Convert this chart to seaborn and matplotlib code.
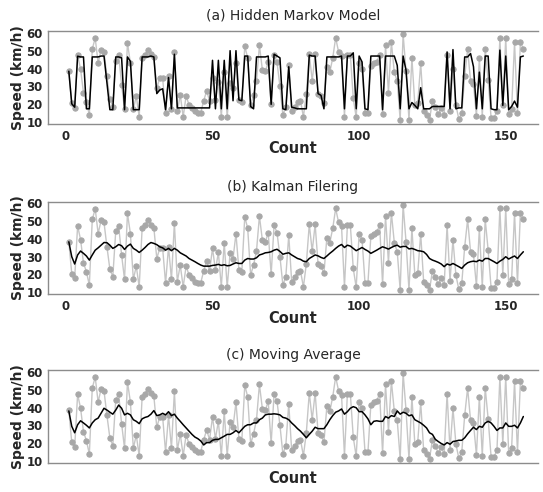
import matplotlib
matplotlib.use("Agg")
import matplotlib.pyplot as plt
import numpy as np
import pandas as pd
import seaborn as sns

# Observed speed series (km/h), one value per count
speed = [
    38.4, 20.5, 18.0, 47.4, 39.7, 26.5, 21.5, 14.0, 51.0, 57.0,
    43.0, 50.5, 49.3, 35.6, 23.0, 18.7, 44.4, 47.4, 31.0, 17.2,
    54.4, 43.0, 17.2, 24.7, 13.0, 46.0, 47.8, 50.6, 48.0, 46.3,
    29.0, 34.7, 34.7, 15.0, 35.6, 17.2, 49.0, 16.0, 25.3, 13.0,
    24.7, 19.7, 17.8, 16.0, 15.4, 15.4, 22.0, 27.5, 22.0, 34.7,
    22.5, 32.4, 13.0, 37.9, 13.0, 31.9, 29.0, 43.0, 22.5, 21.5,
    52.5, 46.0, 19.7, 25.3, 33.2, 52.9, 39.4, 38.4, 43.5, 20.0,
    47.8, 43.5, 30.0, 14.0, 18.7, 42.2, 16.0, 18.3, 21.5, 22.0,
    13.0, 26.0, 48.2, 33.2, 48.2, 26.0, 24.7, 20.6, 40.7, 37.9,
    46.0, 57.2, 49.3, 47.2, 13.0, 47.8, 47.8, 23.4, 12.7, 43.0,
    39.7, 15.4, 15.0, 41.6, 43.0, 43.7, 47.8, 14.4, 52.9, 26.6,
    54.7, 37.9, 32.8, 11.2, 59.3, 38.4, 11.2, 46.0, 19.7, 21.0,
    43.0, 16.0, 14.0, 11.2, 22.1, 18.7, 14.4, 17.8, 14.0, 47.8,
    16.3, 39.7, 19.7, 11.6, 15.0, 35.6, 51.0, 32.8, 31.3, 13.5,
    46.0, 13.0, 51.0, 33.7, 12.5, 12.5, 16.0, 57.2, 19.7, 57.2,
    14.6, 17.2, 54.7, 15.0, 54.7, 51.0,
]

# Hidden Markov Model estimate
hmm = [
    38.5, 20.3, 18.4, 46.9, 46.5, 46.5, 17.5, 17.5, 46.5, 46.5,
    46.5, 47.0, 47.0, 32.0, 17.0, 17.0, 46.5, 46.5, 46.0, 17.0,
    46.5, 44.0, 17.0, 17.0, 17.0, 46.5, 46.5, 46.5, 47.0, 46.5,
    26.0, 28.0, 28.7, 17.0, 35.0, 17.5, 48.0, 18.0, 18.0, 18.0,
    18.0, 18.0, 18.0, 18.0, 18.0, 18.0, 18.0, 18.0, 18.0, 44.6,
    17.5, 44.6, 17.5, 44.6, 17.5, 50.0, 22.0, 50.0, 22.5, 22.0,
    47.0, 47.0, 18.8, 17.5, 46.5, 46.5, 46.5, 46.5, 47.0, 20.0,
    48.0, 47.0, 46.0, 17.5, 17.0, 41.0, 18.4, 18.0, 17.5, 17.5,
    17.5, 17.5, 47.5, 47.0, 47.0, 26.0, 25.0, 17.5, 46.5, 46.5,
    46.5, 46.5, 46.5, 47.0, 17.5, 47.0, 47.0, 48.8, 17.5, 47.0,
    43.7, 17.5, 17.0, 47.0, 47.0, 47.0, 47.0, 17.0, 47.0, 47.0,
    47.0, 47.0, 41.8, 17.5, 47.0, 39.0, 17.5, 21.0, 19.4, 17.5,
    29.3, 17.5, 17.5, 17.5, 18.8, 18.8, 18.8, 18.8, 18.8, 49.3,
    17.5, 50.6, 17.5, 18.0, 18.0, 46.5, 46.5, 48.4, 41.0, 17.5,
    38.0, 17.5, 47.0, 47.0, 17.5, 17.0, 17.0, 50.3, 19.4, 47.0,
    17.0, 18.8, 21.8, 18.4, 46.5, 47.0,
]

# Kalman filter estimate
kalman = [
    38.4, 30.0, 25.9, 31.0, 33.2, 31.9, 30.4, 28.1, 31.0, 33.7,
    35.0, 36.5, 38.0, 37.9, 36.5, 34.7, 35.6, 36.9, 36.2, 34.1,
    36.0, 37.1, 34.7, 33.7, 32.4, 33.7, 35.2, 36.9, 38.0, 37.5,
    36.8, 35.6, 35.0, 33.7, 34.7, 33.4, 34.7, 33.7, 32.2, 31.3,
    30.4, 29.0, 28.1, 27.2, 26.2, 25.3, 24.7, 24.7, 24.7, 25.1,
    25.3, 25.7, 25.1, 25.5, 24.9, 25.1, 25.9, 26.6, 26.2, 26.2,
    28.1, 29.0, 28.7, 28.7, 29.4, 31.0, 31.5, 32.2, 32.4, 32.8,
    33.7, 34.2, 33.0, 31.4, 31.9, 32.2, 31.0, 30.0, 29.0, 28.5,
    27.5, 27.2, 29.0, 30.0, 31.0, 30.5, 29.6, 29.0, 30.4, 31.9,
    33.2, 34.7, 36.0, 36.9, 35.2, 36.5, 36.0, 34.7, 33.4, 34.3,
    35.2, 34.1, 33.2, 31.9, 32.8, 33.7, 34.7, 35.6, 35.0, 34.3,
    35.2, 36.0, 36.5, 35.4, 35.8, 35.8, 34.4, 34.7, 34.1, 33.4,
    33.2, 32.8, 31.3, 29.0, 28.1, 27.5, 26.8, 25.9, 24.4, 25.9,
    25.3, 26.2, 25.3, 24.4, 23.4, 25.3, 26.6, 27.2, 27.5, 27.2,
    28.1, 27.5, 29.0, 29.0, 28.1, 27.2, 26.2, 27.5, 28.5, 30.0,
    28.7, 29.6, 30.4, 29.0, 31.0, 32.8,
]

# Moving average estimate
moving_avg = [
    38.1, 29.5, 25.9, 30.4, 32.6, 31.4, 30.1, 28.6, 31.4, 33.2,
    34.1, 36.8, 39.6, 38.6, 37.4, 36.3, 38.6, 41.4, 39.6, 35.9,
    36.8, 35.9, 33.2, 32.3, 31.0, 33.7, 34.5, 35.0, 36.3, 38.3,
    35.5, 35.9, 36.8, 35.9, 37.7, 35.5, 36.3, 34.1, 32.3, 30.4,
    28.6, 26.8, 25.0, 23.5, 22.6, 21.3, 19.1, 20.4, 20.4, 21.7,
    22.2, 22.2, 23.1, 24.0, 25.0, 25.0, 25.9, 27.2, 25.9, 27.7,
    29.5, 30.4, 30.4, 31.4, 31.4, 33.2, 34.1, 35.9, 36.3, 36.3,
    36.5, 36.3, 35.9, 34.5, 34.1, 33.2, 31.4, 29.9, 28.2, 26.8,
    25.0, 23.1, 25.0, 26.8, 29.0, 28.2, 28.2, 28.2, 30.4, 33.2,
    35.5, 37.4, 38.1, 39.2, 36.3, 37.7, 39.6, 40.5, 39.9, 37.7,
    37.7, 35.9, 33.7, 30.4, 32.3, 32.6, 32.3, 32.3, 35.0, 34.1,
    35.5, 35.0, 38.1, 36.3, 37.4, 36.8, 35.4, 35.9, 33.2, 32.3,
    31.4, 30.1, 28.6, 25.9, 25.0, 22.2, 21.0, 19.9, 19.1, 20.4,
    19.5, 21.0, 21.3, 21.7, 21.7, 23.1, 25.3, 27.2, 29.0, 27.7,
    29.5, 29.0, 31.4, 32.3, 31.4, 29.5, 27.2, 28.6, 28.6, 31.4,
    29.5, 29.5, 30.1, 28.6, 31.4, 35.0,
]

titles = ["(a) Hidden Markov Model", "(b) Kalman Filering", "(c) Moving Average"]
x_ticks = [0, 50, 100, 150]
y_ticks = [10, 20, 30, 40, 50, 60]

count = np.arange(1, len(speed) + 1)
df = pd.DataFrame({"Count": count, "speed": speed, "hmm": hmm,
                   "kalman": kalman, "ma": moving_avg})

sns.set_style("white")
plt.rcParams["font.family"] = ["DejaVu Sans"]

fig = plt.figure(figsize=(5.43, 4.92), dpi=100)
W, H = 543.0, 492.0
left, right = 48, 538
panel_px = [(31, 124), (201.7, 294), (370, 463)]
estimates = ["hmm", "kalman", "ma"]

spine_col = "#8c8c8c"
for i, ((top, bot), est, title) in enumerate(zip(panel_px, estimates, titles)):
    ax = fig.add_axes([left / W, 1 - bot / H, (right - left) / W, (bot - top) / H])
    sns.lineplot(data=df, x="Count", y="speed", ax=ax, color="#c6c6c6",
                 linewidth=1.0, marker="o", markersize=3.8,
                 markerfacecolor="#a8a8a8", markeredgecolor="#a8a8a8")
    sns.lineplot(data=df, x="Count", y=est, ax=ax, color="black", linewidth=1.1)
    ax.set_xlim(-6.1, 161)
    ax.set_ylim(9, 61)
    ax.set_xticks(x_ticks)
    ax.set_yticks(y_ticks)
    ax.set_title(title, fontsize=10, pad=8)
    last = i == len(titles) - 1
    ax.set_xlabel("Count", fontsize=10.5, fontweight="bold",
                  labelpad=6 if last else -1)
    ax.set_ylabel("Speed (km/h)", fontsize=10, fontweight="bold", labelpad=1)
    ax.tick_params(axis="both", labelsize=8.5, direction="out", length=3,
                   width=0.8, color=spine_col, pad=1)
    if last:
        ax.tick_params(axis="x", labelbottom=False)
    for lab in ax.get_xticklabels() + ax.get_yticklabels():
        lab.set_fontweight("semibold")
    for side in ["left", "bottom", "top"]:
        ax.spines[side].set_visible(True)
        ax.spines[side].set_color(spine_col)
        ax.spines[side].set_linewidth(1.0)
    ax.spines["right"].set_visible(False)

fig.savefig("out.png", dpi=100)
